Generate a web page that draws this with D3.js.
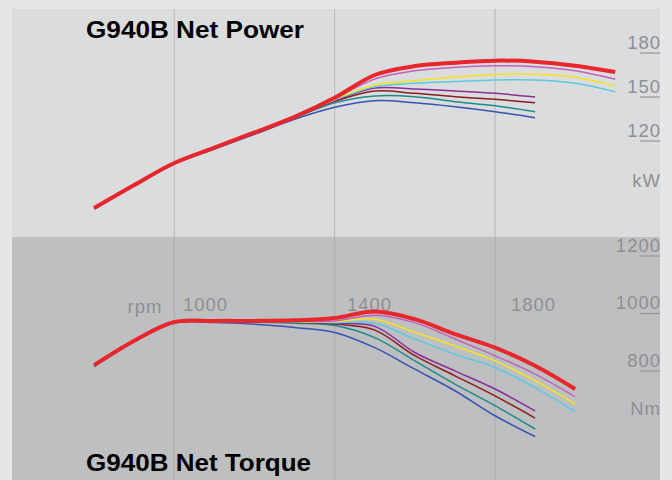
<html>
<head>
<meta charset="utf-8">
<script src="https://d3js.org/d3.v7.min.js"></script>
<style>
body {
	margin: 0;
	background: #e5e6e8;
}
svg text {
	font-family: "Liberation Sans", Arial, sans-serif;
}
.tick-label {
	fill: #8e8f91;
	font-size: 18.5px;
	letter-spacing: 1px;
}
.title {
	fill: #000;
	font-weight: bold;
	font-size: 23px;
}
</style>
</head>
<body>
<div id="chart"></div>
<script>

// rpm points
var rpmPowerLong  = [800, 900, 1000, 1100, 1200, 1300, 1400, 1500, 1600, 1700, 1800, 1900, 2000, 2100];
var rpmTorqueLong = [800, 900, 1000, 1100, 1200, 1300, 1400, 1500, 1600, 1700, 1800, 1900, 2000];
var rpmShort      = [800, 900, 1000, 1100, 1200, 1300, 1400, 1500, 1600, 1700, 1800, 1900];

// net power, kW
var powerRed    = [66.8, 82.5, 97.5, 108, 118.3, 129, 142, 157.5, 163.6, 165.9, 167.3, 166.6, 163.8, 159.5];
var powerOrchid = [66.8, 82.5, 97.5, 108, 118.3, 128.9, 141.5, 154.8, 160.4, 162.7, 163.8, 163.2, 160.4, 154.6];
var powerYellow = [66.8, 82.5, 97.5, 108, 118.3, 128.8, 141, 150.7, 153.6, 155.9, 158, 158, 155.9, 150];
var powerCyan   = [66.8, 82.5, 97.5, 108, 118.3, 128.7, 140.5, 149.5, 151.8, 153, 154.1, 154.1, 151.8, 146];
var powerPurple = [66.8, 82.5, 97.5, 108, 118.3, 128.6, 140, 148.6, 148, 146.6, 145, 142.5];
var powerMaroon = [66.8, 82.5, 97.5, 108, 118.3, 128.5, 139.5, 146.6, 145, 142.7, 140.9, 138.6];
var powerTeal   = [66.8, 82.5, 97.5, 108, 118.2, 128.3, 138.5, 143.2, 142.7, 139.3, 136.6, 132.5];
var powerBlue   = [66.0, 81.7, 96.7, 107.0, 117.1, 127.3, 135.5, 140, 138.6, 135.9, 132.5, 128.4];

// net torque, Nm
var torqueRed    = [782, 867, 932, 936, 936, 938, 946, 969, 942, 890, 843, 780, 699];
var torqueOrchid = [782, 867, 932, 935, 935, 935, 936, 956, 930, 873, 815, 751, 672];
var torqueYellow = [782, 867, 932, 935, 935, 934, 933, 942, 896, 849, 797, 728, 647];
var torqueCyan   = [782, 867, 932, 935, 935, 933, 930, 928, 873, 820, 774, 704, 620];
var torquePurple = [782, 867, 932, 935, 934, 932, 927, 917, 826, 762, 699, 623];
var torqueMaroon = [782, 867, 932, 935, 934, 931, 925, 904, 815, 745, 675, 598];
var torqueTeal   = [782, 867, 932, 935, 932, 928, 920, 878, 797, 716, 641, 560];
var torqueBlue   = [777, 863, 929, 930, 924, 913, 896, 843, 768, 693, 606, 534];

var rpmTicks = [1000, 1400, 1800];
var powerTicks = [180, 150, 120];
var torqueTicks = [1200, 1000, 800];

var colors = {
	red: "#e8262b", orchid: "#bf62bd", yellow: "#f3e322", cyan: "#5cc9df",
	purple: "#8b2c98", maroon: "#8a1c20", teal: "#1c8c88", blue: "#3553b0"
};

var powerSeries = [
	{c: "blue",   rpm: rpmShort, v: powerBlue},
	{c: "teal",   rpm: rpmShort, v: powerTeal},
	{c: "maroon", rpm: rpmShort, v: powerMaroon},
	{c: "purple", rpm: rpmShort, v: powerPurple},
	{c: "cyan",   rpm: rpmPowerLong, v: powerCyan},
	{c: "yellow", rpm: rpmPowerLong, v: powerYellow},
	{c: "orchid", rpm: rpmPowerLong, v: powerOrchid},
	{c: "red",    rpm: rpmPowerLong, v: powerRed}
];
var torqueSeries = [
	{c: "blue",   rpm: rpmShort, v: torqueBlue},
	{c: "teal",   rpm: rpmShort, v: torqueTeal},
	{c: "maroon", rpm: rpmShort, v: torqueMaroon},
	{c: "purple", rpm: rpmShort, v: torquePurple},
	{c: "cyan",   rpm: rpmTorqueLong, v: torqueCyan},
	{c: "yellow", rpm: rpmTorqueLong, v: torqueYellow},
	{c: "orchid", rpm: rpmTorqueLong, v: torqueOrchid},
	{c: "red",    rpm: rpmTorqueLong, v: torqueRed}
];

let W = 672, H = 480,
	panelLeft = 12, panelRight = 660, panelTop = 9, split = 237;

let x = d3.scaleLinear().domain([1000, 1800]).range([174.3, 495]),
	xLab = d3.scaleLinear().domain([1000, 1800]).range([205.5, 533.5]),
	yP = d3.scaleLinear().domain([120, 180]).range([130, 42]),
	yT = d3.scaleLinear().domain([800, 1200]).range([360, 245]);

let svg = d3.select("#chart").append("svg")
	.attr("width", W)
	.attr("height", H);

svg.append("rect").attr("width", W).attr("height", H).attr("fill", "#e5e6e8");

// panels
svg.append("rect")
	.attr("x", panelLeft).attr("y", panelTop)
	.attr("width", panelRight - panelLeft).attr("height", split - panelTop)
	.attr("fill", "#dbdcde");
svg.append("rect")
	.attr("x", panelLeft).attr("y", split)
	.attr("width", panelRight - panelLeft).attr("height", H - split)
	.attr("fill", "#bebfc1");

// vertical grid
svg.selectAll(".gridTop").data(rpmTicks).enter().append("line")
	.attr("x1", d => x(d)).attr("x2", d => x(d))
	.attr("y1", panelTop).attr("y2", split)
	.attr("stroke", "#bcbdbf").attr("stroke-width", 1.2);
svg.selectAll(".gridBot").data(rpmTicks).enter().append("line")
	.attr("x1", d => x(d)).attr("x2", d => x(d))
	.attr("y1", split).attr("y2", H)
	.attr("stroke", "#aeafb1").attr("stroke-width", 1.2);

// rpm labels
svg.selectAll(".rpmLab").data(rpmTicks).enter().append("text")
	.attr("class", "tick-label")
	.attr("text-anchor", "middle")
	.attr("dominant-baseline", "central")
	.attr("x", d => xLab(d)).attr("y", 304)
	.text(d => d);
svg.append("text")
	.attr("class", "tick-label")
	.attr("text-anchor", "middle")
	.attr("dominant-baseline", "central")
	.attr("x", 145).attr("y", 306)
	.text("rpm");

// y labels with underline ticks
function yLabels(ticks, scale, unit, unitY) {
	svg.selectAll(null).data(ticks).enter().append("text")
		.attr("class", "tick-label")
		.attr("text-anchor", "end")
		.attr("dominant-baseline", "central")
		.attr("x", panelRight + 1).attr("y", d => scale(d))
		.text(d => d);
	svg.selectAll(null).data(ticks).enter().append("line")
		.attr("x1", panelRight - 20).attr("x2", panelRight)
		.attr("y1", d => scale(d) + 11).attr("y2", d => scale(d) + 11)
		.attr("stroke", "#98999b").attr("stroke-width", 1.3);
	svg.append("text")
		.attr("class", "tick-label")
		.attr("text-anchor", "end")
		.attr("dominant-baseline", "central")
		.attr("x", panelRight + 1).attr("y", unitY)
		.text(unit);
}
yLabels(powerTicks, yP, "kW", 180);
yLabels(torqueTicks, yT, "Nm", 408);

// curves
function drawCurves(series, yScale) {
	let line = d3.line()
		.x(d => x(d[0]))
		.y(d => yScale(d[1]))
		.curve(d3.curveCatmullRom.alpha(0.5));
	svg.append("g").selectAll("path").data(series).enter().append("path")
		.attr("fill", "none")
		.attr("stroke", d => colors[d.c])
		.attr("stroke-width", d => d.c == "red" ? 4 : 1.5)
		.attr("d", d => line(d.rpm.map((r, i) => [r, d.v[i]])));
}
drawCurves(powerSeries, yP);
drawCurves(torqueSeries, yT);

// titles
svg.append("text")
	.attr("class", "title")
	.attr("x", 86).attr("y", 38)
	.attr("textLength", 218).attr("lengthAdjust", "spacingAndGlyphs")
	.text("G940B Net Power");
svg.append("text")
	.attr("class", "title")
	.attr("x", 86).attr("y", 471)
	.attr("textLength", 225).attr("lengthAdjust", "spacingAndGlyphs")
	.text("G940B Net Torque");

</script>
</body>
</html>
